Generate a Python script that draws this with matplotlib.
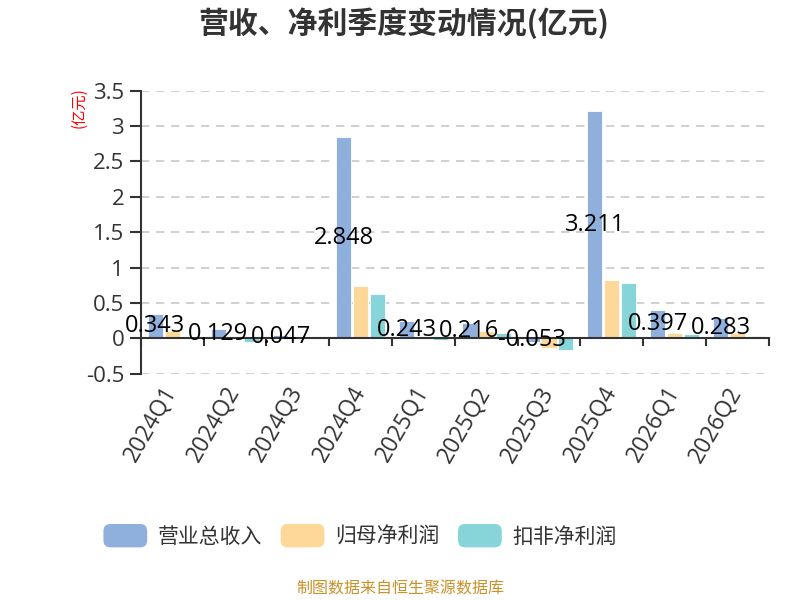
import numpy as np
import matplotlib
matplotlib.use('Agg')
import matplotlib.pyplot as plt
from matplotlib.patches import FancyBboxPatch, Patch
from matplotlib.legend_handler import HandlerPatch

plt.rcParams['font.family'] = ['Open Sans', 'Noto Sans CJK SC', 'DejaVu Sans']
plt.rcParams['axes.unicode_minus'] = False

# Data (亿元)
quarters = ['2024Q1', '2024Q2', '2024Q3', '2024Q4', '2025Q1',
            '2025Q2', '2025Q3', '2025Q4', '2026Q1', '2026Q2']
revenue = [0.343, 0.129, 0.047, 2.848, 0.243, 0.216, -0.053, 3.211, 0.397, 0.283]
net_profit = [0.10, -0.01, 0.02, 0.734, 0.005, 0.10, -0.14, 0.823, 0.08, 0.075]
deducted_profit = [0.01, -0.045, 0.02, 0.63, -0.025, 0.07, -0.165, 0.785, 0.056, 0.038]
series_names = ['营业总收入', '归母净利润', '扣非净利润']
colors = ['#8fafdc', '#fed898', '#87d5d8']
y_ticks = [-0.5, 0, 0.5, 1, 1.5, 2, 2.5, 3, 3.5]
y_tick_labels = ['-0.5', '0', '0.5', '1', '1.5', '2', '2.5', '3', '3.5']


class RoundHandler(HandlerPatch):
    def create_artists(self, legend, orig_handle, xdescent, ydescent, width, height, fontsize, trans):
        p = FancyBboxPatch((-xdescent, -ydescent), width, height,
                           boxstyle='round,pad=0,rounding_size=%f' % (height * 0.3),
                           facecolor=orig_handle.get_facecolor(), edgecolor='none',
                           transform=trans)
        return [p]


fig = plt.figure(figsize=(8, 6), dpi=100)
ax = fig.add_axes([0.176, 0.377, 0.785, 0.472])

x = np.arange(len(quarters))
w = 0.24
step = 0.27
all_series = [revenue, net_profit, deducted_profit]
for i, vals in enumerate(all_series):
    ax.bar(x + (i - 1) * step, vals, width=w, color=colors[i],
           edgecolor='white', linewidth=0.6, zorder=3)

# labels on the revenue bars
for xi, v in zip(x, revenue):
    ax.text(xi - step, v / 2, '%.3f' % v, ha='center', va='center',
            fontsize=17, color='black', zorder=5)

ax.set_xlim(-0.5, len(quarters) - 0.5)
ax.set_ylim(-0.5, 3.5)
ax.set_yticks(y_ticks)
ax.set_yticklabels(y_tick_labels)
ax.yaxis.grid(True, linestyle=(0, (5, 4)), color='#c8c8c8', linewidth=1.2, zorder=0)

for s in ['top', 'right']:
    ax.spines[s].set_visible(False)
ax.spines['left'].set_color('#333333')
ax.spines['left'].set_linewidth(1.5)
ax.spines['bottom'].set_position(('data', 0))
ax.spines['bottom'].set_color('#333333')
ax.spines['bottom'].set_linewidth(1.5)
ax.spines['bottom'].set_zorder(4)

ax.tick_params(axis='y', length=8, width=1.5, color='#333333', labelsize=16,
               labelcolor='#333333', pad=4)
# boundary ticks on the zero line, labels at centres
ax.set_xticks(np.arange(-0.5, len(quarters), 1.0))
ax.set_xticklabels([])
ax.tick_params(axis='x', which='major', length=6, width=1.5, color='#333333')
ax.set_xticks(x, minor=True)
ax.set_xticklabels(quarters, minor=True)
ax.tick_params(axis='x', which='minor', length=0, pad=36, labelsize=16.5, labelcolor='#333333')
plt.setp(ax.get_xticklabels(minor=True), rotation=60, ha='right', va='center',
         rotation_mode='anchor')

fig.text(0.099, 0.82, '(亿元)', rotation=90, color='red', fontsize=11,
         ha='center', va='center', family=['Noto Sans CJK SC'])

fig.text(0.505, 0.962, '营收、净利季度变动情况(亿元)', ha='center', va='center',
         fontsize=21.5, fontweight='bold', color='#333333',
         family=['Noto Sans CJK SC'])

handles = [Patch(facecolor=c, label=n) for c, n in zip(colors, series_names)]
fig.legend(handles=handles, loc='center', bbox_to_anchor=(0.45, 0.107), ncol=3,
           frameon=False, handlelength=2.1, handleheight=1.35,
           handletextpad=0.5, columnspacing=0.9, labelcolor='#333333',
           prop={'family': ['Noto Sans CJK SC'], 'size': 15},
           handler_map={Patch: RoundHandler()})

fig.text(0.5, 0.018, '制图数据来自恒生聚源数据库', ha='center', va='center',
         fontsize=11.5, color='#c8912a', family=['Noto Sans CJK SC'])

fig.savefig('out.png', dpi=100)
